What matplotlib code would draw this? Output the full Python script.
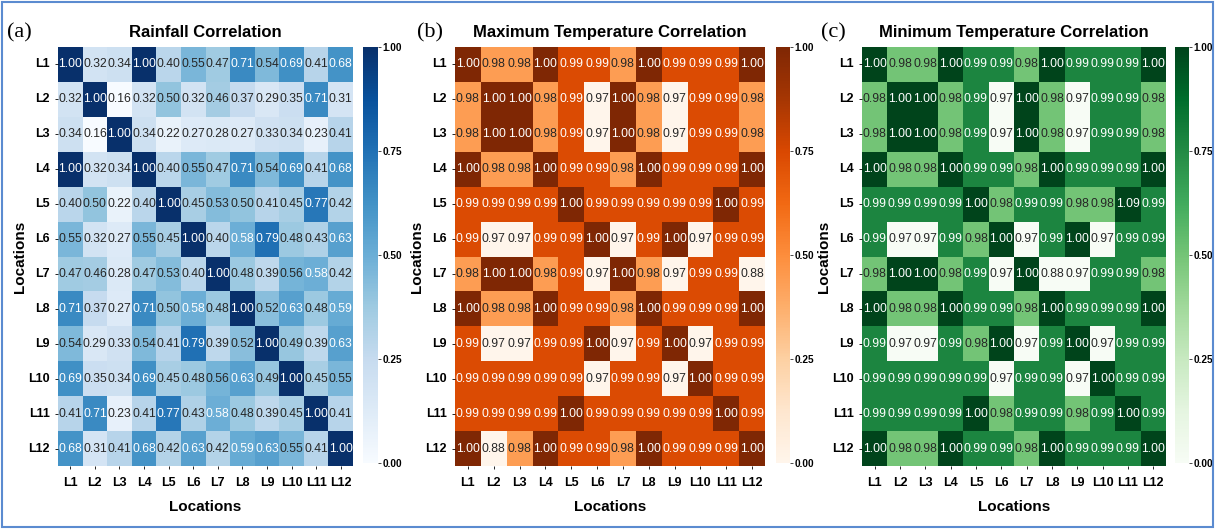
import numpy as np
import matplotlib
matplotlib.use("Agg")
import matplotlib.pyplot as plt
import seaborn as sns
from matplotlib.colors import Normalize, PowerNorm
from matplotlib.cm import ScalarMappable
from matplotlib.patches import Rectangle

locations = ["L1", "L2", "L3", "L4", "L5", "L6", "L7", "L8", "L9", "L10", "L11", "L12"]

rainfall = [
    [1.00, 0.32, 0.34, 1.00, 0.40, 0.55, 0.47, 0.71, 0.54, 0.69, 0.41, 0.68],
    [0.32, 1.00, 0.16, 0.32, 0.50, 0.32, 0.46, 0.37, 0.29, 0.35, 0.71, 0.31],
    [0.34, 0.16, 1.00, 0.34, 0.22, 0.27, 0.28, 0.27, 0.33, 0.34, 0.23, 0.41],
    [1.00, 0.32, 0.34, 1.00, 0.40, 0.55, 0.47, 0.71, 0.54, 0.69, 0.41, 0.68],
    [0.40, 0.50, 0.22, 0.40, 1.00, 0.45, 0.53, 0.50, 0.41, 0.45, 0.77, 0.42],
    [0.55, 0.32, 0.27, 0.55, 0.45, 1.00, 0.40, 0.58, 0.79, 0.48, 0.43, 0.63],
    [0.47, 0.46, 0.28, 0.47, 0.53, 0.40, 1.00, 0.48, 0.39, 0.56, 0.58, 0.42],
    [0.71, 0.37, 0.27, 0.71, 0.50, 0.58, 0.48, 1.00, 0.52, 0.63, 0.48, 0.59],
    [0.54, 0.29, 0.33, 0.54, 0.41, 0.79, 0.39, 0.52, 1.00, 0.49, 0.39, 0.63],
    [0.69, 0.35, 0.34, 0.69, 0.45, 0.48, 0.56, 0.63, 0.49, 1.00, 0.45, 0.55],
    [0.41, 0.71, 0.23, 0.41, 0.77, 0.43, 0.58, 0.48, 0.39, 0.45, 1.00, 0.41],
    [0.68, 0.31, 0.41, 0.68, 0.42, 0.63, 0.42, 0.59, 0.63, 0.55, 0.41, 1.00],
]

max_temp = [
    [1.00, 0.98, 0.98, 1.00, 0.99, 0.99, 0.98, 1.00, 0.99, 0.99, 0.99, 1.00],
    [0.98, 1.00, 1.00, 0.98, 0.99, 0.97, 1.00, 0.98, 0.97, 0.99, 0.99, 0.98],
    [0.98, 1.00, 1.00, 0.98, 0.99, 0.97, 1.00, 0.98, 0.97, 0.99, 0.99, 0.98],
    [1.00, 0.98, 0.98, 1.00, 0.99, 0.99, 0.98, 1.00, 0.99, 0.99, 0.99, 1.00],
    [0.99, 0.99, 0.99, 0.99, 1.00, 0.99, 0.99, 0.99, 0.99, 0.99, 1.00, 0.99],
    [0.99, 0.97, 0.97, 0.99, 0.99, 1.00, 0.97, 0.99, 1.00, 0.97, 0.99, 0.99],
    [0.98, 1.00, 1.00, 0.98, 0.99, 0.97, 1.00, 0.98, 0.97, 0.99, 0.99, 0.88],
    [1.00, 0.98, 0.98, 1.00, 0.99, 0.99, 0.98, 1.00, 0.99, 0.99, 0.99, 1.00],
    [0.99, 0.97, 0.97, 0.99, 0.99, 1.00, 0.97, 0.99, 1.00, 0.97, 0.99, 0.99],
    [0.99, 0.99, 0.99, 0.99, 0.99, 0.97, 0.99, 0.99, 0.97, 1.00, 0.99, 0.99],
    [0.99, 0.99, 0.99, 0.99, 1.00, 0.99, 0.99, 0.99, 0.99, 0.99, 1.00, 0.99],
    [1.00, 0.88, 0.98, 1.00, 0.99, 0.99, 0.98, 1.00, 0.99, 0.99, 0.99, 1.00],
]

min_temp = [
    [1.00, 0.98, 0.98, 1.00, 0.99, 0.99, 0.98, 1.00, 0.99, 0.99, 0.99, 1.00],
    [0.98, 1.00, 1.00, 0.98, 0.99, 0.97, 1.00, 0.98, 0.97, 0.99, 0.99, 0.98],
    [0.98, 1.00, 1.00, 0.98, 0.99, 0.97, 1.00, 0.98, 0.97, 0.99, 0.99, 0.98],
    [1.00, 0.98, 0.98, 1.00, 0.99, 0.99, 0.98, 1.00, 0.99, 0.99, 0.99, 1.00],
    [0.99, 0.99, 0.99, 0.99, 1.00, 0.98, 0.99, 0.99, 0.98, 0.98, 1.09, 0.99],
    [0.99, 0.97, 0.97, 0.99, 0.98, 1.00, 0.97, 0.99, 1.00, 0.97, 0.99, 0.99],
    [0.98, 1.00, 1.00, 0.98, 0.99, 0.97, 1.00, 0.88, 0.97, 0.99, 0.99, 0.98],
    [1.00, 0.98, 0.98, 1.00, 0.99, 0.99, 0.98, 1.00, 0.99, 0.99, 0.99, 1.00],
    [0.99, 0.97, 0.97, 0.99, 0.98, 1.00, 0.97, 0.99, 1.00, 0.97, 0.99, 0.99],
    [0.99, 0.99, 0.99, 0.99, 0.99, 0.97, 0.99, 0.99, 0.97, 1.00, 0.99, 0.99],
    [0.99, 0.99, 0.99, 0.99, 1.00, 0.98, 0.99, 0.99, 0.98, 0.99, 1.00, 0.99],
    [1.00, 0.98, 0.98, 1.00, 0.99, 0.99, 0.98, 1.00, 0.99, 0.99, 0.99, 1.00],
]

titles = ["Rainfall Correlation", "Maximum Temperature Correlation", "Minimum Temperature Correlation"]
panel_tags = ["(a)", "(b)", "(c)"]
cbar_ticks = [0.0, 0.25, 0.5, 0.75, 1.0]

plt.rcParams["font.family"] = ["Liberation Sans", "DejaVu Sans"]

W, H = 1215, 529
fig = plt.figure(figsize=(W / 100, H / 100), dpi=100)

# pixel boxes: heatmap (left, right), colorbar (left, right)
boxes = [((58, 353), (363, 378)), ((455, 765), (776, 790)), ((862, 1166), (1175, 1189))]
top_px, bot_px = 47, 466
tag_x = [7, 417, 821]

panels = [
    (rainfall, "Blues", Normalize(0.16, 1.0)),
    (max_temp, "Oranges", PowerNorm(0.75, 0.97, 1.0)),
    (min_temp, "Greens", PowerNorm(0.63, 0.97, 1.0)),
]

for i, (data, cmap, norm) in enumerate(panels):
    (hl, hr), (cl, cr) = boxes[i]
    ax = fig.add_axes([hl / W, 1 - bot_px / H, (hr - hl) / W, (bot_px - top_px) / H])
    cax = fig.add_axes([cl / W, 1 - (bot_px - 3) / H, (cr - cl) / W, (bot_px - 3 - top_px) / H])
    arr = np.array(data)
    sns.heatmap(arr, ax=ax, cmap=cmap, norm=norm, annot=True, fmt=".2f",
                cbar=False, xticklabels=locations, yticklabels=locations,
                annot_kws={"fontsize": 8.7})
    ax.set_title(titles[i], fontsize=12, fontweight="bold", pad=7)
    ax.set_xlabel("Locations", fontsize=11, fontweight="bold", labelpad=8)
    ax.set_ylabel("Locations", fontsize=11, fontweight="bold", labelpad=1)
    ax.tick_params(axis="both", length=2, width=0.6, pad=4)
    ax.tick_params(axis="x", pad=6)
    for lab in ax.get_xticklabels() + ax.get_yticklabels():
        lab.set_fontsize(9)
        lab.set_fontweight("bold")
    plt.setp(ax.get_yticklabels(), rotation=0)
    plt.setp(ax.get_xticklabels(), rotation=0)

    sm = ScalarMappable(norm=Normalize(0, 1), cmap=cmap)
    cb = fig.colorbar(sm, cax=cax, ticks=cbar_ticks)
    cb.outline.set_visible(False)
    cb.ax.tick_params(length=2, width=0.5, labelsize=7.2, pad=1.5)
    cb.ax.set_yticklabels(["%.2f" % t for t in cbar_ticks], fontweight="bold")

    fig.text(tag_x[i] / W, 1 - 33 / H, panel_tags[i], fontsize=16, family="Liberation Serif",
             va="center", ha="left")

fig.patches.append(Rectangle((2 / W, 2 / H), 1 - 4 / W, 1 - 4 / H, transform=fig.transFigure,
                             fill=False, edgecolor="#5b8bd0", linewidth=1.5))

fig.savefig("out.png", dpi=100)
